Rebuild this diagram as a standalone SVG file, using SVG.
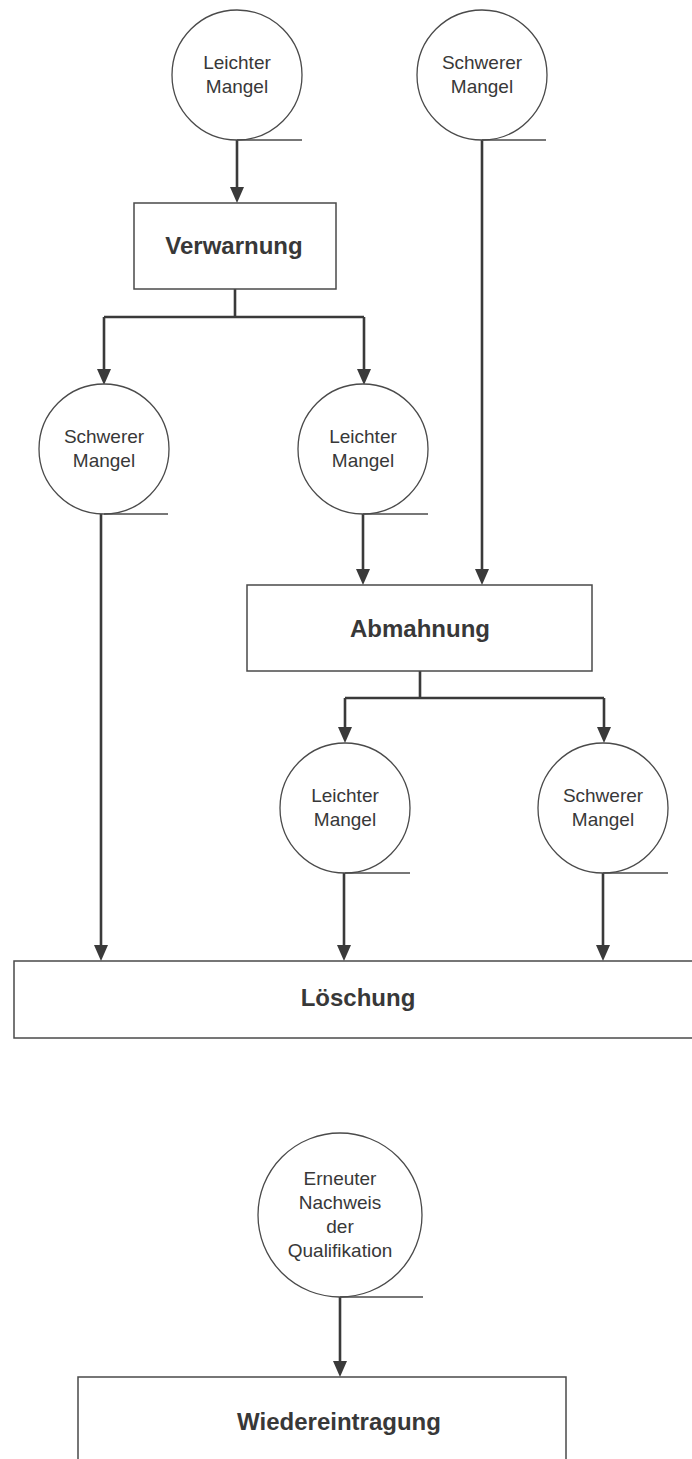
<svg xmlns="http://www.w3.org/2000/svg" width="692" height="1459" viewBox="0 0 692 1459">
<defs>
<style>
.c{fill:#fff;stroke:#4a4a4a;stroke-width:1.3}
.b{fill:#fff;stroke:#4a4a4a;stroke-width:1.5}
.t{stroke:#4a4a4a;stroke-width:1.3;fill:none}
.ct{font-family:"Liberation Sans",Arial,sans-serif;font-size:19px;fill:#383838;text-anchor:middle}
.bt{font-family:"Liberation Sans",Arial,sans-serif;font-size:24px;font-weight:bold;fill:#383838;text-anchor:middle}
.e{stroke:#3a3a3a;stroke-width:2.6;fill:none}
.h{fill:#3a3a3a}
</style>
</defs>
<rect width="692" height="1459" fill="#fff"/>

<g id="connectors">
<path class="e" d="M237,140 V188"/><path class="h" d="M230,187 L244,187 L237,203 Z"/>
<path class="e" d="M235,289 V317 M104,317 H364 M104,317 V370 M364,317 V370"/>
<path class="h" d="M97,369 L111,369 L104,385 Z"/>
<path class="h" d="M357,369 L371,369 L364,385 Z"/>
<path class="e" d="M482,140 V570"/><path class="h" d="M475,569 L489,569 L482,585 Z"/>
<path class="e" d="M363,514 V570"/><path class="h" d="M356,569 L370,569 L363,585 Z"/>
<path class="e" d="M420,671 V698 M345,698 H604 M345,698 V728 M604,698 V728"/>
<path class="h" d="M338,727 L352,727 L345,743 Z"/>
<path class="h" d="M597,727 L611,727 L604,743 Z"/>
<path class="e" d="M101,514 V946"/><path class="h" d="M94,945 L108,945 L101,961 Z"/>
<path class="e" d="M344,873 V946"/><path class="h" d="M337,945 L351,945 L344,961 Z"/>
<path class="e" d="M603,873 V946"/><path class="h" d="M596,945 L610,945 L603,961 Z"/>
<path class="e" d="M340,1297 V1362"/><path class="h" d="M333,1361 L347,1361 L340,1377 Z"/>
</g>

<g id="n1">
<circle class="c" cx="237" cy="75" r="65"/>
<path class="t" d="M237,140 H302"/>
<text class="ct" x="237" y="69">Leichter</text>
<text class="ct" x="237" y="93">Mangel</text>
</g>
<g id="n2">
<circle class="c" cx="482" cy="75" r="65"/>
<path class="t" d="M482,140 H546"/>
<text class="ct" x="482" y="69">Schwerer</text>
<text class="ct" x="482" y="93">Mangel</text>
</g>
<g id="verwarnung">
<rect class="b" x="134" y="203" width="202" height="86"/>
<text class="bt" x="234" y="254">Verwarnung</text>
</g>
<g id="n3">
<circle class="c" cx="104" cy="449" r="65"/>
<path class="t" d="M104,514 H168"/>
<text class="ct" x="104" y="443">Schwerer</text>
<text class="ct" x="104" y="467">Mangel</text>
</g>
<g id="n4">
<circle class="c" cx="363" cy="449" r="65"/>
<path class="t" d="M363,514 H428"/>
<text class="ct" x="363" y="443">Leichter</text>
<text class="ct" x="363" y="467">Mangel</text>
</g>
<g id="abmahnung">
<rect class="b" x="247" y="585" width="345" height="86"/>
<text class="bt" x="420" y="637">Abmahnung</text>
</g>
<g id="n5">
<circle class="c" cx="345" cy="808" r="65"/>
<path class="t" d="M345,873 H410"/>
<text class="ct" x="345" y="802">Leichter</text>
<text class="ct" x="345" y="826">Mangel</text>
</g>
<g id="n6">
<circle class="c" cx="603" cy="808" r="65"/>
<path class="t" d="M603,873 H668"/>
<text class="ct" x="603" y="802">Schwerer</text>
<text class="ct" x="603" y="826">Mangel</text>
</g>
<g id="loeschung">
<rect class="b" x="14" y="961" width="690" height="77"/>
<text class="bt" x="358" y="1006">Löschung</text>
</g>
<g id="n7">
<circle class="c" cx="340" cy="1215" r="82"/>
<path class="t" d="M340,1297 H423"/>
<text class="ct" x="340" y="1185">Erneuter</text>
<text class="ct" x="340" y="1209">Nachweis</text>
<text class="ct" x="340" y="1233">der</text>
<text class="ct" x="340" y="1257">Qualifikation</text>
</g>
<g id="wiedereintragung">
<rect class="b" x="78" y="1377" width="488" height="100"/>
<text class="bt" x="339" y="1430">Wiedereintragung</text>
</g>
</svg>
